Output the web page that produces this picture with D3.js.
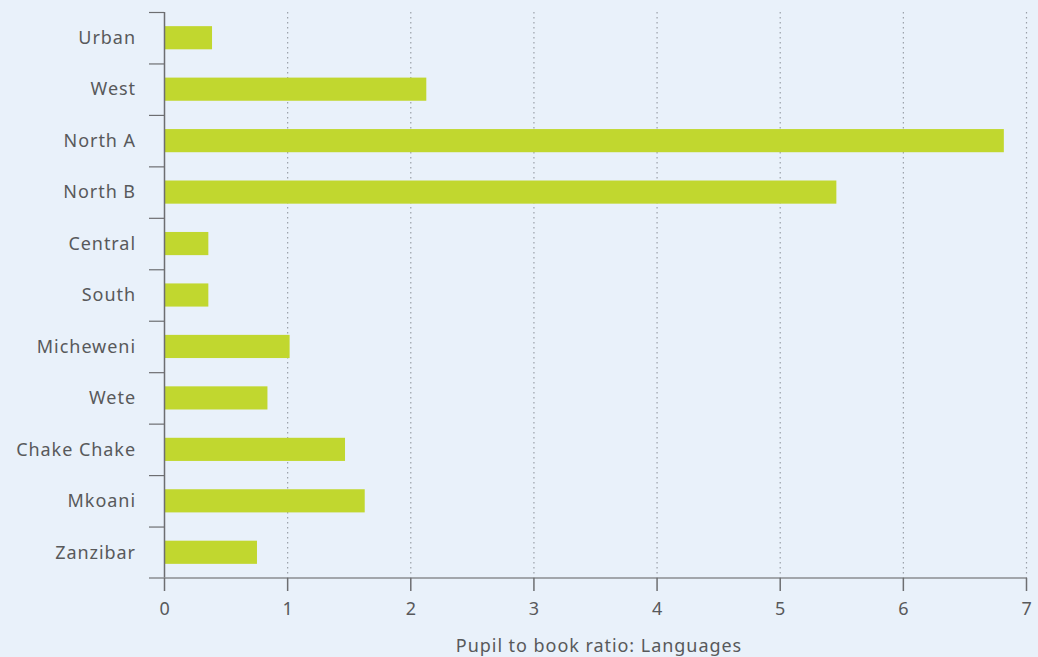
<!DOCTYPE html>
<html>
<head>
    <script src="https://cdnjs.cloudflare.com/ajax/libs/d3/7.8.5/d3.min.js"></script>
    <style>
        body { margin: 0; background: #e9f1fa; }
        text { font-family: "Noto Sans", "Open Sans", sans-serif; fill: #58595b; letter-spacing: 0.95px; }
    </style>
</head>
<body>
    <div id="chart"></div>
    <script>
        const regions = ["Urban", "West", "North A", "North B", "Central", "South",
                         "Micheweni", "Wete", "Chake Chake", "Mkoani", "Zanzibar"];
        const ratios = [0.39, 2.13, 6.82, 5.46, 0.36, 0.36, 1.02, 0.84, 1.47, 1.63, 0.755];
        const xTicks = [0, 1, 2, 3, 4, 5, 6, 7];
        const xTitle = "Pupil to book ratio: Languages";

        const width = 1038, height = 657;
        const mLeft = 164, mRight = 1026, mTop = 12, mBottom = 578;

        const svg = d3.select("#chart").append("svg")
            .attr("width", width).attr("height", height);

        const x = d3.scaleLinear().domain([0, 7]).range([mLeft, mRight]);
        const y = d3.scaleBand().domain(regions).range([mTop, mBottom]).paddingInner(0.55).paddingOuter(0.275);
        const yb = d3.scaleBand().domain(regions).range([mTop, mBottom]);

        // dotted grid
        svg.append("g").selectAll("line")
            .data(xTicks.slice(1))
            .enter().append("line")
            .attr("x1", d => x(d) + 0.5).attr("x2", d => x(d) + 0.5)
            .attr("y1", mTop).attr("y2", mBottom)
            .attr("stroke", "#9aa0a8")
            .attr("stroke-width", 1.2)
            .attr("stroke-dasharray", "1.5,3.5");

        // bars
        svg.append("g").selectAll("rect")
            .data(regions)
            .enter().append("rect")
            .attr("x", x(0) + 1)
            .attr("y", d => y(d))
            .attr("width", (d, i) => x(ratios[i]) - x(0) - 1)
            .attr("height", y.bandwidth())
            .attr("fill", "#c1d72f");

        // left axis: band boundary ticks
        const yAxis = svg.append("g");
        yAxis.append("line")
            .attr("x1", mLeft + 0.5).attr("x2", mLeft + 0.5)
            .attr("y1", mTop).attr("y2", mBottom)
            .attr("stroke", "#6d6e71").attr("stroke-width", 1.5);
        yAxis.selectAll("line.tick")
            .data(regions)
            .enter().append("line")
            .attr("class", "tick")
            .attr("x1", mLeft - 15).attr("x2", mLeft)
            .attr("y1", d => yb(d) + 0.5).attr("y2", d => yb(d) + 0.5)
            .attr("stroke", "#6d6e71").attr("stroke-width", 1.2);
        yAxis.selectAll("text")
            .data(regions)
            .enter().append("text")
            .attr("x", mLeft - 28)
            .attr("y", d => yb(d) + yb.bandwidth() / 2)
            .attr("dy", "0.35em")
            .attr("text-anchor", "end")
            .attr("font-size", 18)
            .text(d => d);

        // bottom axis
        const xAxis = svg.append("g");
        xAxis.append("line")
            .attr("x1", mLeft - 15).attr("x2", mRight + 1)
            .attr("y1", mBottom).attr("y2", mBottom)
            .attr("stroke", "#8a8c90").attr("stroke-width", 1.5);
        xAxis.selectAll("line.tick")
            .data(xTicks)
            .enter().append("line")
            .attr("class", "tick")
            .attr("x1", d => x(d) + 0.5).attr("x2", d => x(d) + 0.5)
            .attr("y1", mBottom).attr("y2", mBottom + 13)
            .attr("stroke", "#6d6e71").attr("stroke-width", 1.5);
        xAxis.selectAll("text")
            .data(xTicks)
            .enter().append("text")
            .attr("x", d => x(d) + 1)
            .attr("y", mBottom + 37)
            .attr("text-anchor", "middle")
            .attr("font-size", 18)
            .text(d => d);

        svg.append("text")
            .attr("x", (mLeft + mRight) / 2 + 4)
            .attr("y", 652)
            .attr("text-anchor", "middle")
            .attr("font-size", 18)
            .text(xTitle);
    </script>
</body>
</html>
